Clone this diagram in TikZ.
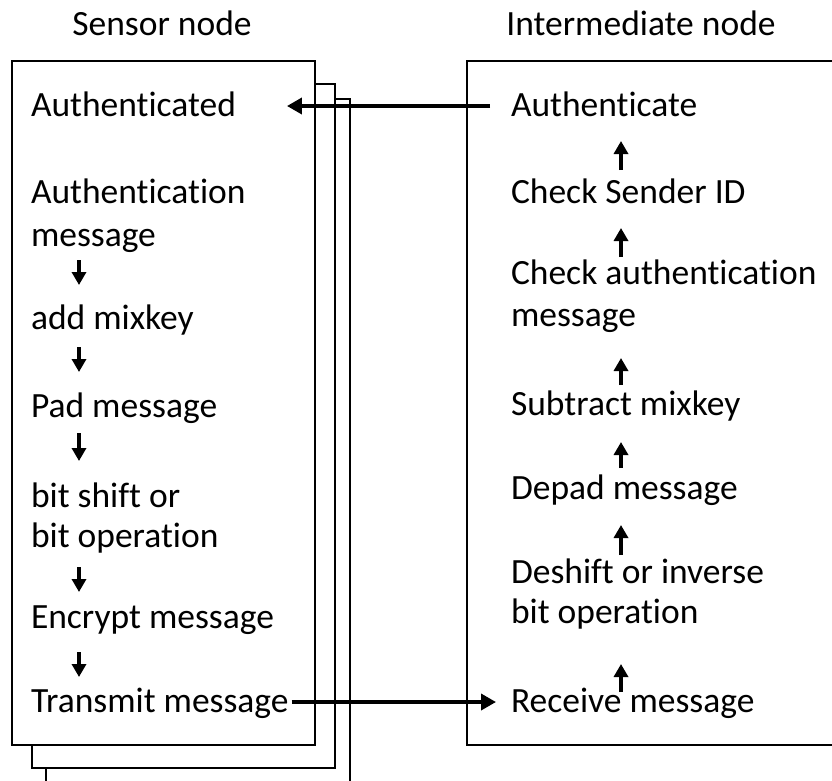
\documentclass[tikz,border=0pt]{standalone}
\usepackage{fontspec}
\setmainfont{Carlito}
\usetikzlibrary{arrows.meta,calc}
% keep "ti" and "ft" as separate letters
\newcommand\splitlig{\kern0pt }
\begin{document}
\begin{tikzpicture}[x=1pt,y=-1pt,
  every node/.style={inner sep=0pt, outer sep=0pt, font=\fontsize{35.5}{42}\selectfont},
  item/.style={anchor=base west},
  frame/.style={draw=black, line width=2pt, fill=white},
  stepflow/.style={line width=3.4pt, -{Triangle[width=14pt,length=13pt]}},
  link/.style={line width=3.6pt, -{Triangle[width=16pt,length=15pt]}}]
\useasboundingbox (0,0) rectangle (832,780);
\clip (0,0) rectangle (832,780);

% stacked sensor-node frames (back to front) and the intermediate-node frame
\draw[frame] (46,99) rectangle (350,800);
\draw[frame] (32,84) rectangle (335,768);
\draw[frame] (12,61) rectangle (315,745);
\draw[frame] (467,61) rectangle (850,745);

% column titles
\node[anchor=base] (sn) at (162,35) {Sensor node};
\node[anchor=base] (in) at (641,35) {Intermediate node};

% sensor node steps
\node[item] (L1)  at (31,116) {Authent\splitlig icated};
\node[item] (L2a) at (31,203) {Authent\splitlig icat\splitlig ion};
\node[item] (L2b) at (31,246) {message};
\node[item] (L3)  at (31,329) {add mixkey};
\node[item] (L4)  at (31,417) {Pad message};
\node[item] (L5a) at (31,507) {bit shif\splitlig t or};
\node[item] (L5b) at (31,547) {bit operat\splitlig ion};
\node[item] (L6)  at (31,628) {Encrypt message};
\node[item] (L7)  at (31,712) {Transmit message};

% intermediate node steps
\node[item] (R1)  at (511,116) {Authent\splitlig icate};
\node[item] (R2)  at (511,203) {Check Sender ID};
\node[item] (R3a) at (511,284) {Check authent\splitlig icat\splitlig ion};
\node[item] (R3b) at (511,326) {message};
\node[item] (R4)  at (511,415) {Subtract mixkey};
\node[item] (R5)  at (511,499) {Depad message};
\node[item] (R6a) at (511,583) {Deshif\splitlig t or inverse};
\node[item] (R6b) at (511,623) {bit operat\splitlig ion};
\node[item] (R7)  at (511,712) {Receive message};

% downward flow on the sensor side
\draw[stepflow] ($(L2b.base west)+(48,14)$) -- ($(L3.base west)+(48,-44)$);
\draw[stepflow] ($(L3.base west)+(48,18)$)  -- ($(L4.base west)+(48,-45)$);
\draw[stepflow] ($(L4.base west)+(48,16)$)  -- ($(L5a.base west)+(48,-46)$);
\draw[stepflow] ($(L5b.base west)+(48,20)$) -- ($(L6.base west)+(48,-36)$);
\draw[stepflow] ($(L6.base west)+(48,24)$)  -- ($(L7.base west)+(48,-35)$);

% upward flow on the intermediate side
\draw[stepflow] ($(R2.base west)+(110,-33)$)  -- ($(R1.base west)+(110,25)$);
\draw[stepflow] ($(R3a.base west)+(110,-27)$) -- ($(R2.base west)+(110,25)$);
\draw[stepflow] ($(R4.base west)+(110,-30)$)  -- ($(R3b.base west)+(110,32)$);
\draw[stepflow] ($(R5.base west)+(110,-31)$)  -- ($(R4.base west)+(110,27)$);
\draw[stepflow] ($(R6a.base west)+(110,-28)$) -- ($(R5.base west)+(110,26)$);
\draw[stepflow] ($(R7.base west)+(110,-20)$)  -- ($(R6b.base west)+(110,41)$);

% messages exchanged between the nodes
\draw[link] ($(L7.base east)+(3,-10)$) -- ($(R7.base west)+(-15,-10)$);
\draw[link] ($(R1.base west)+(-21,-10)$) -- ($(L1.base east)+(51,-10)$);
\end{tikzpicture}
\end{document}
